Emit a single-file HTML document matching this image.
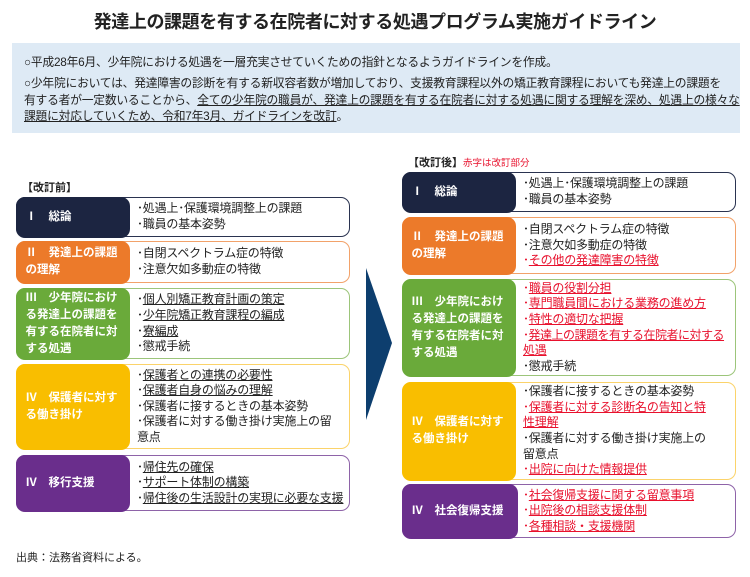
<!DOCTYPE html>
<html><head><meta charset="utf-8"><style>
body{margin:0;width:750px;height:577px;background:#fff;position:relative;font-family:"Liberation Sans","Noto Sans CJK JP",sans-serif;color:#222;overflow:hidden}
.a{position:absolute}
.title{left:0;width:750px;top:8px;text-align:center;font-size:18px;font-weight:bold;letter-spacing:-0.4px}
.blue{left:12px;top:43px;width:728px;height:90px;background:#deeaf5}
.blue p{margin:0;position:absolute;left:12px;font-size:11.8px;line-height:16.5px;width:716px;letter-spacing:-0.25px;white-space:nowrap}
u{text-decoration:underline}
.box{position:absolute;border:1.5px solid;border-radius:9px;background:#fff;box-sizing:border-box}
.lab{position:absolute;left:-1.5px;top:-1.5px;bottom:-1.5px;border-radius:9px;color:#fff;font-weight:bold;font-size:11.5px;line-height:17px;display:flex;align-items:center;padding:0 8px 0 10px;box-sizing:border-box}
.txt{position:absolute;font-size:12px;line-height:15.6px;display:flex;flex-direction:column;justify-content:center;top:0;bottom:0;right:2px;letter-spacing:-0.2px}
.r{color:#e8112d}
.hd{font-size:11px;font-weight:bold}
</style></head><body>
<div class="a title">発達上の課題を有する在院者に対する処遇プログラム実施ガイドライン</div>
<div class="a blue">
<p style="top:11px">○平成28年6月、少年院における処遇を一層充実させていくための指針となるようガイドラインを作成。</p>
<p style="top:32px">○少年院においては、発達障害の診断を有する新収容者数が増加しており、支援教育課程以外の矯正教育課程においても発達上の課題を<br>有する者が一定数いることから、<u>全ての少年院の職員が、発達上の課題を有する在院者に対する処遇に関する理解を深め、処遇上の様々な<br>課題に対応していくため、令和7年3月、ガイドラインを改訂</u>。</p>
</div>
<div class="a hd" style="left:22px;top:179px">【改訂前】</div>
<div class="a hd" style="left:408px;top:154px">【改訂後】<span class="r" style="font-weight:normal;font-size:9.5px">赤字は改訂部分</span></div>

<!-- left -->
<div class="box" style="left:16px;top:197px;width:334px;height:40px;border-color:#2a3350"><div class="lab" style="width:114px;background:#1c2541">Ⅰ　総論</div><div class="txt" style="left:120px">･処遇上･保護環境調整上の課題<br>･職員の基本姿勢</div></div>
<div class="box" style="left:16px;top:241px;width:334px;height:42px;border-color:#f2a26a"><div class="lab" style="width:114px;background:#ec7a2a">Ⅱ　発達上の課題の理解</div><div class="txt" style="left:120px">･自閉スペクトラム症の特徴<br>･注意欠如多動症の特徴</div></div>
<div class="box" style="left:16px;top:288px;width:334px;height:71px;border-color:#9cc57a"><div class="lab" style="width:114px;background:#6aaa3a">Ⅲ　少年院における発達上の課題を有する在院者に対する処遇</div><div class="txt" style="left:120px"><span>･<u>個人別矯正教育計画の策定</u></span><span>･<u>少年院矯正教育課程の編成</u></span><span>･<u>寮編成</u></span><span>･懲戒手続</span></div></div>
<div class="box" style="left:16px;top:364px;width:334px;height:85px;border-color:#fbd36a"><div class="lab" style="width:114px;background:#f9be00">Ⅳ　保護者に対する働き掛け</div><div class="txt" style="left:120px;right:6px"><span>･<u>保護者との連携の必要性</u></span><span>･<u>保護者自身の悩みの理解</u></span><span>･保護者に接するときの基本姿勢</span><span>･保護者に対する働き掛け実施上の留意点</span></div></div>
<div class="box" style="left:16px;top:455px;width:334px;height:56px;border-color:#8e63a8"><div class="lab" style="width:114px;background:#6a2e8c">Ⅳ　移行支援</div><div class="txt" style="left:120px;right:0;white-space:nowrap"><span>･<u>帰住先の確保</u></span><span>･<u>サポート体制の構築</u></span><span>･<u>帰住後の生活設計の実現に必要な支援</u></span></div></div>

<svg class="a" style="left:360px;top:260px" width="40" height="170"><polygon points="6,8 6,160 32,83" fill="#0d3e6e"/></svg>

<!-- right -->
<div class="box" style="left:402px;top:172px;width:334px;height:40px;border-color:#2a3350"><div class="lab" style="width:114px;background:#1c2541">Ⅰ　総論</div><div class="txt" style="left:120px">･処遇上･保護環境調整上の課題<br>･職員の基本姿勢</div></div>
<div class="box" style="left:402px;top:217px;width:334px;height:57px;border-color:#f2a26a"><div class="lab" style="width:114px;background:#ec7a2a">Ⅱ　発達上の課題の理解</div><div class="txt" style="left:120px"><span>･自閉スペクトラム症の特徴</span><span>･注意欠如多動症の特徴</span><span class="r">･<u>その他の発達障害の特徴</u></span></div></div>
<div class="box" style="left:402px;top:279px;width:334px;height:97px;border-color:#9cc57a"><div class="lab" style="width:114px;background:#6aaa3a">Ⅲ　少年院における発達上の課題を有する在院者に対する処遇</div><div class="txt" style="left:120px;right:2px;white-space:nowrap"><span class="r">･<u>職員の役割分担</u></span><span class="r">･<u>専門職員間における業務の進め方</u></span><span class="r">･<u>特性の適切な把握</u></span><span class="r" style="letter-spacing:-0.5px">･<u>発達上の課題を有する在院者に対する</u></span><span class="r"><u>処遇</u></span><span>･懲戒手続</span></div></div>
<div class="box" style="left:402px;top:382px;width:334px;height:98px;border-color:#fbd36a"><div class="lab" style="width:114px;background:#f9be00">Ⅳ　保護者に対する働き掛け</div><div class="txt" style="left:120px;right:20px"><span>･保護者に接するときの基本姿勢</span><span class="r">･<u>保護者に対する診断名の告知と特性理解</u></span><span>･保護者に対する働き掛け実施上の留意点</span><span class="r">･<u>出院に向けた情報提供</u></span></div></div>
<div class="box" style="left:402px;top:484px;width:334px;height:54px;border-color:#8e63a8"><div class="lab" style="width:116px;background:#6a2e8c">Ⅳ　社会復帰支援</div><div class="txt" style="left:120px"><span class="r">･<u>社会復帰支援に関する留意事項</u></span><span class="r">･<u>出院後の相談支援体制</u></span><span class="r">･<u>各種相談・支援機関</u></span></div></div>

<div class="a" style="left:16px;top:549px;font-size:11px">出典：法務省資料による。</div>
</body></html>
